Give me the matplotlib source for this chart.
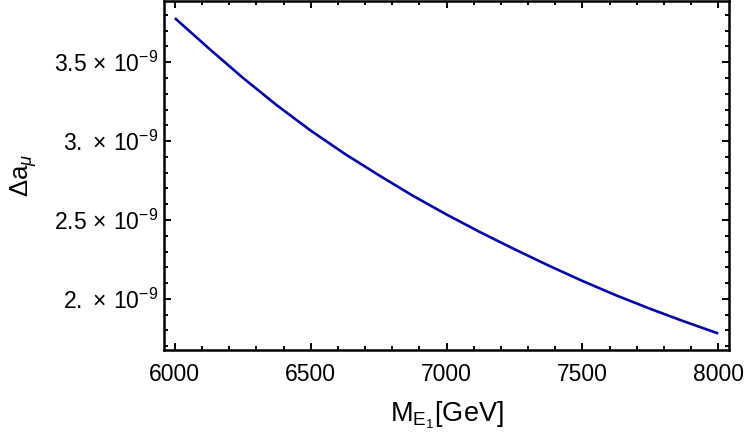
import matplotlib
matplotlib.use("Agg")
import matplotlib.pyplot as plt
from matplotlib.ticker import MultipleLocator, FixedLocator, FixedFormatter

plt.rcParams['font.family'] = ['Liberation Sans', 'DejaVu Sans']
plt.rcParams['mathtext.fontset'] = 'custom'
plt.rcParams['mathtext.rm'] = 'Liberation Sans'
plt.rcParams['mathtext.it'] = 'Liberation Sans:italic'
plt.rcParams['mathtext.sf'] = 'Liberation Sans'

# data (mass in GeV, Delta a_mu in units of 1e-9)
mass = [6000, 6125, 6250, 6375, 6500, 6625, 6750, 6875, 7000,
        7125, 7250, 7375, 7500, 7625, 7750, 7875, 8000]
delta_amu = [3.780, 3.588, 3.402, 3.228, 3.067, 2.920, 2.785, 2.655, 2.535,
             2.422, 2.315, 2.212, 2.114, 2.022, 1.937, 1.857, 1.781]

x_ticks = [6000, 6500, 7000, 7500, 8000]
y_ticks = [2.0, 2.5, 3.0, 3.5]
y_tick_labels = [r"$\mathregular{2.\,\times\,10^{-9}}$", r"$\mathregular{2.5\,\times\,10^{-9}}$",
                 r"$\mathregular{3.\,\times\,10^{-9}}$", r"$\mathregular{3.5\,\times\,10^{-9}}$"]

fig = plt.figure(figsize=(7.47, 4.40), dpi=100)
ax = fig.add_axes([0.2195, 0.2045, 0.7565, 0.7935])

ax.plot(mass, delta_amu, color='#0606a6', lw=1.9, solid_capstyle='butt')

ax.set_xlim(5960, 8040)
ax.set_ylim(1.676, 3.889)

ax.xaxis.set_major_locator(FixedLocator(x_ticks))
ax.xaxis.set_minor_locator(MultipleLocator(100))
ax.yaxis.set_major_locator(FixedLocator(y_ticks))
ax.yaxis.set_major_formatter(FixedFormatter(y_tick_labels))
ax.yaxis.set_minor_locator(MultipleLocator(0.1))

ax.tick_params(which='both', direction='in', top=True, right=True, labelsize=16.5,
               width=1.4, color='black')
ax.tick_params(axis='x', pad=9)
ax.tick_params(axis='y', pad=4)
ax.tick_params(which='major', length=5)
ax.tick_params(which='minor', length=3)

for s in ax.spines.values():
    s.set_linewidth(1.8)

ax.set_xlabel(r"M$_{\mathrm{E}_1}$[GeV]", fontsize=19.5, labelpad=10)
ax.set_ylabel(r"$\Delta$a$_{\mu}$", fontsize=18.5, labelpad=11)

fig.savefig("out.png", dpi=100)
